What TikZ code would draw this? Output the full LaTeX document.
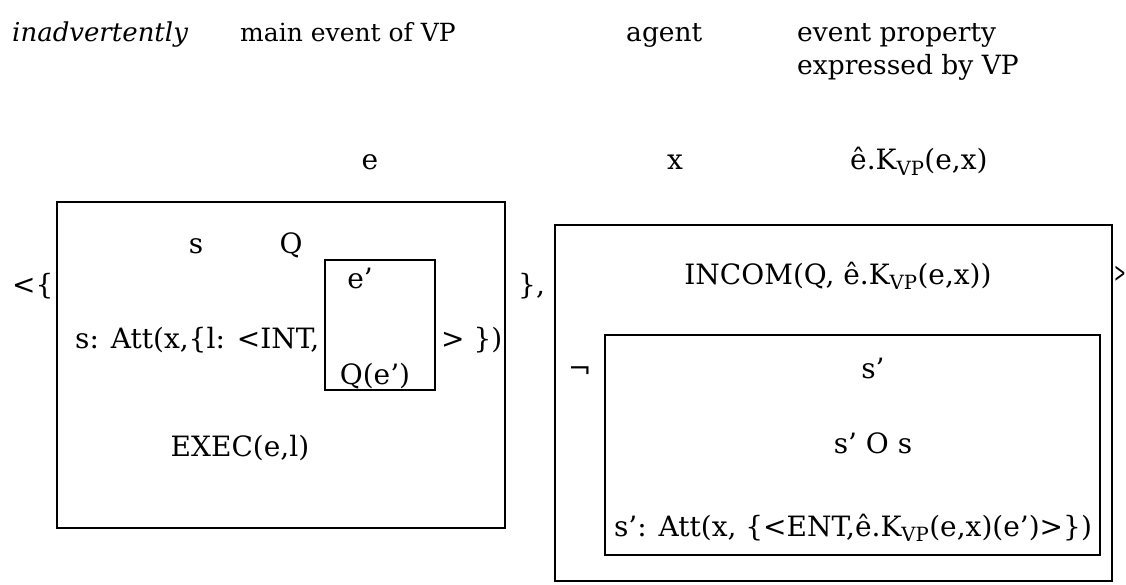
\documentclass[tikz,border=0pt]{standalone}
\usepackage{fontspec}
\setmainfont{DejaVu Serif}
\begin{document}
\begin{tikzpicture}[x=1pt,y=-1pt,
  hdr/.style={inner sep=0pt, anchor=base west, font=\fontsize{25}{30}\selectfont},
  hdrb/.style={inner sep=0pt, anchor=base west, font=\fontsize{26.5}{30}\selectfont},
  txt/.style={inner sep=0pt, anchor=base west, font=\fontsize{28}{32}\selectfont},
  ctxt/.style={inner sep=0pt, anchor=base, font=\fontsize{28}{32}\selectfont},
  boxline/.style={line width=1.3pt},
  heavy/.style={line width=2.6pt}]
\useasboundingbox (0,0) rectangle (1126,585);
% header
\node[hdr, font=\fontsize{26}{30}\selectfont\itshape] (adv) at (12,42) {inadvertently};
\node[hdr] (mev) at (240,42) {main event of VP};
\node[hdrb] (agt) at (626,42) {agent};
\node[hdrb] (ep1) at (797,42) {event property};
\node[hdrb] (ep2) at (797,75) {expressed by VP};
\node[ctxt] (ve) at (370,170) {e};
\node[ctxt] (vx) at (675,170) {x};
\node[txt] (vk) at (850,170) {ê.K\textsubscript{VP}(e,x)};
% left box
\coordinate (L1) at (57,202);
\coordinate (L2) at (505,528);
\draw[boxline] (L1) rectangle (L2);
\draw[heavy] (L1) -- (L2 |- L1);
\coordinate (I1) at (325,260);
\coordinate (I2) at (435,390);
\draw[boxline] (I1) rectangle (I2);
\draw[heavy] (I1) -- (I2 |- I1);
\node[ctxt] (ls) at (196,254) {s};
\node[ctxt] (lq) at (291,254) {Q};
\node[ctxt] (ep) at (360,288) {e’};
\node[txt] (att) at (75,348) {s: Att(x,\{l: <INT,};
\node[txt] (gt) at (441,348) {> \})};
\node[ctxt] (qe) at (375,384) {Q(e’)};
\node[ctxt] (ex) at (240,456) {EXEC(e,l)};
\node[txt] (lt) at (12,294) {<\{};
\node[txt] (rc) at (518,294) {\},};
% right box
\coordinate (R1) at (555,225);
\coordinate (R2) at (1112,581);
\draw[boxline] (R1) rectangle (R2);
\node[ctxt] (inc) at (838,284) {INCOM(Q, ê.K\textsubscript{VP}(e,x))};
\node[txt, anchor=base east] (rgt) at (1126,282) {\scalebox{0.5}[1]{>}};
\coordinate (S1) at (605,335);
\coordinate (S2) at (1100,555);
\draw[boxline] (S1) rectangle (S2);
\node[txt] (neg) at (568,378) {¬};
\node[ctxt] (sp) at (873,378) {s’};
\node[ctxt] (sos) at (873,453) {s’ O s};
\node[ctxt] (satt) at (853,536) {s’: Att(x, \{<ENT,ê.K\textsubscript{VP}(e,x)(e’)>\})};
\end{tikzpicture}
\end{document}
